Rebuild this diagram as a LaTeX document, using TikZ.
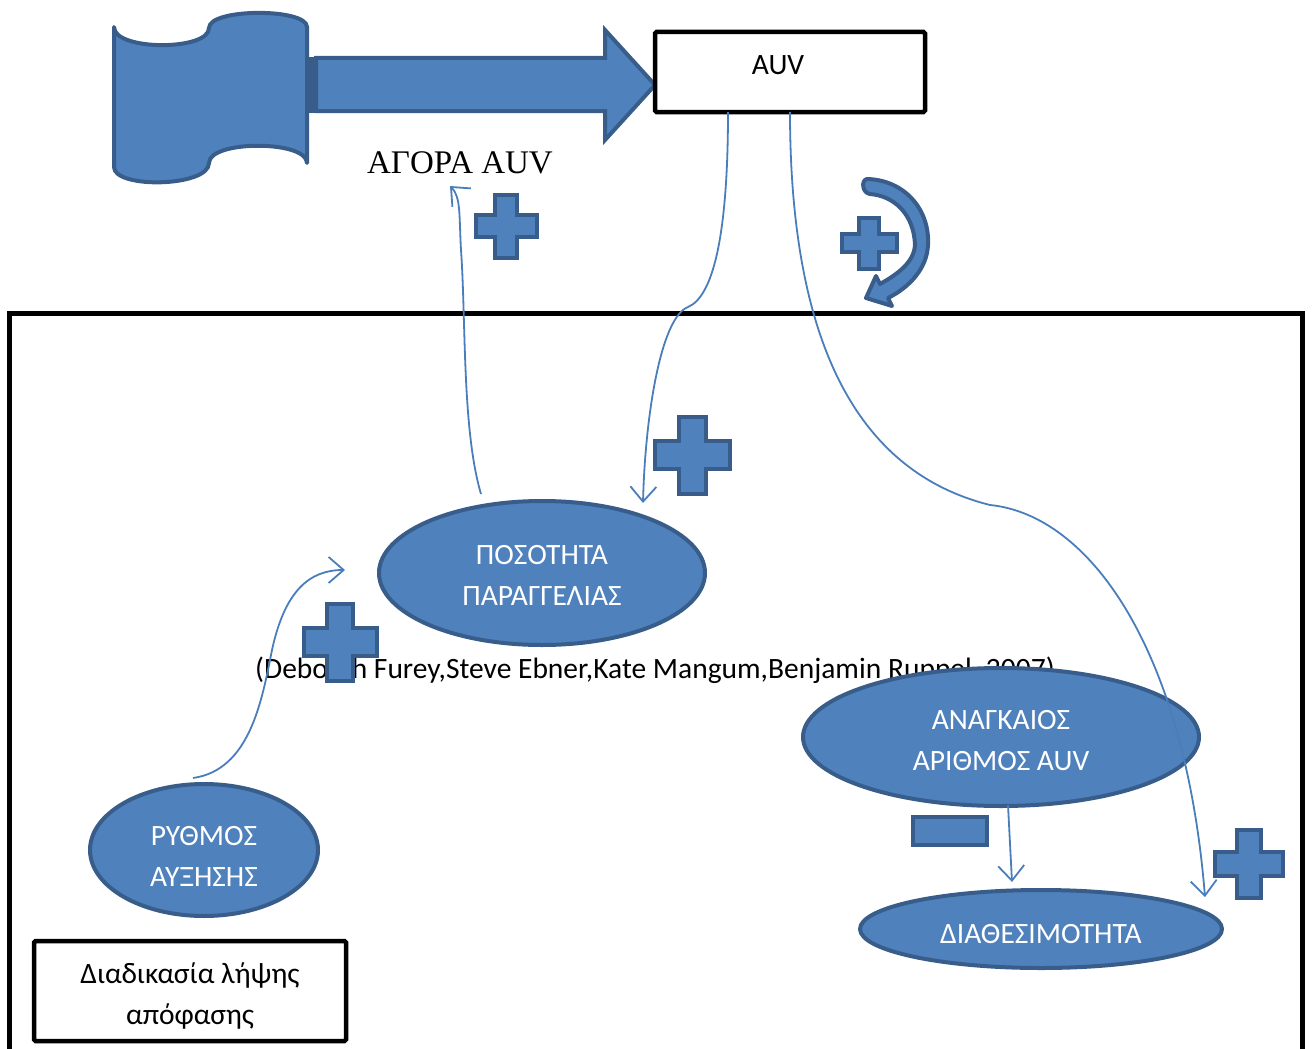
\documentclass[tikz,border=0pt]{standalone}
\usepackage{fontspec}
\setmainfont{Carlito}
\newfontfamily\serifgr{Liberation Serif}
\usetikzlibrary{arrows.meta,shapes.geometric}
\definecolor{bfill}{HTML}{4F81BD}
\definecolor{bdraw}{HTML}{385D8A}
\definecolor{bline}{HTML}{4A7EBB}
\tikzset{
  blueshape/.style={fill=bfill, draw=bdraw, line width=4pt, line join=round},
  bubble/.style={ellipse, blueshape, inner sep=0pt},
  bubbletext/.style={text=white, align=center, font=\fontsize{29.5}{41}\selectfont, inner sep=0pt},
  conn/.style={draw=bline, line width=1.8pt, -{Straight Barb[length=15pt,width=26pt]}},
  blackbox/.style={draw=black, line width=4.5pt, fill=white, rounded corners=1.5pt},
  labeltext/.style={font=\fontsize{29.5}{41}\selectfont, align=center, text=black, inner sep=0pt},
}
\newcommand\plusmark[4]{\draw[blueshape, line join=miter, shift={(#1,#2)}, xscale=#3, yscale=#4]
  (-0.18,-0.5) -- (0.18,-0.5) -- (0.18,-0.18) -- (0.5,-0.18) -- (0.5,0.18) -- (0.18,0.18)
  -- (0.18,0.5) -- (-0.18,0.5) -- (-0.18,0.18) -- (-0.5,0.18) -- (-0.5,-0.18) -- (-0.18,-0.18) -- cycle;}
\begin{document}
\begin{tikzpicture}[x=1pt,y=-1pt]
\useasboundingbox (0,0) rectangle (1312,1049);
% decision frame
\draw[black, line width=5pt] (9,313) rectangle (1302,1070);
% scroll
\draw[blueshape] (114,27) .. controls (114,51) and (209,51) .. (209,28)
  .. controls (209,8) and (307,8) .. (307,27) -- (307,163)
  .. controls (307,140) and (209,140) .. (209,163)
  .. controls (209,187) and (114,189) .. (114,167) -- cycle;
% block arrow
\draw[blueshape, line join=miter] (316,58) -- (605,58) -- (605,30) -- (655,85) -- (605,140) -- (605,111) -- (316,111) -- cycle;
\fill[bdraw] (305,57) rectangle (318,113);
% AUV box
\node[blackbox, minimum width=270pt, minimum height=80pt, inner sep=0pt] (auv) at (790,72) {};
\node[labeltext] (auvt) at (778,65) {AUV};
\node[font=\serifgr\fontsize{33}{40}\selectfont] (agora) at (460,163) {ΑΓΟΡΑ AUV};
% curved arrow
\draw[blueshape] (867,179) .. controls (905,180) and (930,210) .. (928,245)
  .. controls (927,268) and (910,287) .. (888,298)
  -- (892,306) -- (866,298) -- (876,276) -- (880,284)
  .. controls (898,274) and (914,262) .. (915,245)
  .. controls (914,215) and (895,196) .. (870,194)
  .. controls (862,193) and (861,180) .. (867,179) -- cycle;
% citation
\node[font=\fontsize{29.5}{34}\selectfont, anchor=base west, inner sep=0pt] (cite) at (255,678) {(Deborah Furey,Steve Ebner,Kate Mangum,Benjamin Ruppel, 2007)};
% ellipses
\node[bubble, minimum width=326pt, minimum height=144pt] (pos) at (542,573) {};
\node[bubbletext] (post) at (542,575) {ΠΟΣΟΤΗΤΑ\\ΠΑΡΑΓΓΕΛΙΑΣ};
\node[bubble, minimum width=396pt, minimum height=138pt] (anag) at (1001,737) {};
\node[bubbletext] (anagt) at (1001,740.5) {ΑΝΑΓΚΑΙΟΣ\\ΑΡΙΘΜΟΣ AUV};
\node[bubble, minimum width=228pt, minimum height=132pt] (rythm) at (204,850) {};
\node[bubbletext] (rythmt) at (204,856.5) {ΡΥΘΜΟΣ\\ΑΥΞΗΣΗΣ};
\node[bubble, minimum width=362pt, minimum height=78pt] (diath) at (1041,929) {};
\node[bubbletext] (diatht) at (1041,934) {ΔΙΑΘΕΣΙΜΟΤΗΤΑ};
% decision box
\node[blackbox, minimum width=312pt, minimum height=100pt, inner sep=0pt] (dec) at (190,991) {};
\node[labeltext] (dect) at (190,996) {Διαδικασία λήψης\\απόφασης};
% plus / minus marks
\plusmark{506}{226}{61}{63}
\plusmark{869}{243}{55}{51}
\plusmark{692}{455}{75}{77}
\plusmark{340}{642}{73}{77}
\plusmark{1249}{864}{68}{68}
\draw[blueshape, line join=miter] (913,817) rectangle (987,845);
% connectors
\coordinate (c1s) at (481,494);
\coordinate (c1e) at (450,186);
\draw[conn] (c1s) .. controls (462,430) and (466,320) .. (461,250) .. controls (459,215) and (461,197) .. (c1e);
\coordinate (c2s) at (728,112);
\coordinate (c2e) at (643,503);
\draw[conn] (c2s) .. controls (728,240) and (712,297) .. (688,307) .. controls (660,318) and (645,420) .. (c2e);
\coordinate (c3s) at (790,112);
\coordinate (c3e) at (1205,897);
\draw[conn] (c3s) .. controls (790,330) and (850,470) .. (990,505) .. controls (1090,515) and (1185,650) .. (c3e);
\coordinate (c4s) at (193,778);
\coordinate (c4e) at (345,570);
\draw[conn] (c4s) .. controls (250,770) and (262,700) .. (272,650) .. controls (285,590) and (310,570) .. (c4e);
\coordinate (c5s) at (1008,805);
\coordinate (c5e) at (1012,882);
\draw[conn] (c5s) -- (c5e);
\end{tikzpicture}
\end{document}
